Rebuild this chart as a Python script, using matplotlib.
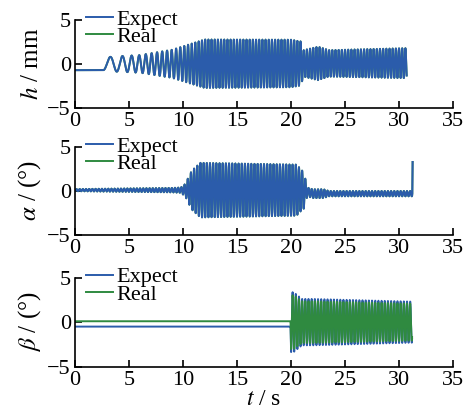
import numpy as np
import matplotlib
matplotlib.use("Agg")
from matplotlib import pyplot as plt

plt.rcParams['font.family'] = ['Liberation Serif', 'DejaVu Serif']
plt.rcParams['mathtext.fontset'] = 'stix'

"""values read off the picture: envelope / frequency / offset knots"""
# h / mm
h_t_end = 30.7
h_env_t = [0, 2.6, 3.5, 6, 9, 12, 20, 20.9, 21.15, 22.5, 23.5, 30.7]
h_env_a = [0, 0.7, 0.85, 1.0, 1.6, 2.75, 2.7, 2.5, 1.5, 1.9, 1.5, 1.7]
h_off_t = [0, 2.6, 31]
h_off_v = [-0.7, 0.0, 0.1]
h_f_t = [0, 2.6, 2.61, 4, 5.5, 7, 9, 12, 31]
h_f_hz = [0, 0, 0.7, 0.9, 1.4, 1.9, 2.4, 3.4, 3.4]

# alpha / deg
a_t_end = 31.2
a_env_t = [0, 9, 9.8, 10.2, 10.8, 11.6, 20.5, 21.2, 21.5, 23, 23.5, 31.2]
a_env_a = [0.12, 0.25, 0.3, 0.7, 2.2, 3.1, 2.9, 2.0, 0.5, 0.5, 0.3, 0.3]
a_off_t = [0, 21, 22, 31.2]
a_off_v = [0.1, 0.1, -0.3, -0.3]
a_f_t = [0, 31.2]
a_f_hz = [3.4, 3.4]
a_spike_t = [31.22, 31.25]
a_spike_v = [-0.3, 3.3]

# beta / deg
b_t_end = 31.2
b_env_t = [0, 19.95, 20.0, 20.3, 21.0, 22.0, 31.2]
b_env_a = [0, 0, 3.4, 3.3, 2.6, 2.6, 2.3]
b_off_t = [0, 19.95, 20.0, 31.2]
b_off_v_exp = [-0.5, -0.5, 0.0, 0.0]
b_off_v_real = [0.1, 0.1, 0.0, 0.0]
b_f_t = [0, 31.2]
b_f_hz = [3.4, 3.4]
b_real_scale = 0.9


def build(t_end, env_t, env_a, off_t, off_v, f_t, f_hz, scale=1.0):
    t = np.linspace(0, t_end, 6000)
    f = np.interp(t, f_t, f_hz)
    phase = 2 * np.pi * np.cumsum(f) * (t[1] - t[0])
    a = np.interp(t, env_t, env_a) * scale
    y = np.interp(t, off_t, off_v) - a * np.cos(phase)
    return t, y


blue = '#2b5cab'
green = '#2f8a40'
lw = 1.4

fig = plt.figure(figsize=(4.64, 4.13), dpi=100)
rects = [[0.1616, 0.7385, 0.815, 0.213],
         [0.1616, 0.431, 0.815, 0.213],
         [0.1616, 0.112, 0.815, 0.216]]
axs = [fig.add_axes(r) for r in rects]

# h
t, y = build(h_t_end, h_env_t, h_env_a, h_off_t, h_off_v, h_f_t, h_f_hz)
axs[0].plot(t, y, color=green, lw=lw, label='Real')
axs[0].plot(t, y, color=blue, lw=lw, label='Expect')

# alpha
t, y = build(a_t_end, a_env_t, a_env_a, a_off_t, a_off_v, a_f_t, a_f_hz)
t = np.concatenate([t, a_spike_t])
y = np.concatenate([y, a_spike_v])
axs[1].plot(t, y, color=green, lw=lw, label='Real')
axs[1].plot(t, y, color=blue, lw=lw, label='Expect')

# beta
t, y = build(b_t_end, b_env_t, b_env_a, b_off_t, b_off_v_exp, b_f_t, b_f_hz)
axs[2].plot(t, y, color=blue, lw=lw, label='Expect')
t, y = build(b_t_end, b_env_t, b_env_a, b_off_t, b_off_v_real, b_f_t, b_f_hz,
             scale=b_real_scale)
axs[2].plot(t, y, color=green, lw=lw, label='Real')

ylabels = [r'$h$ / mm', r'$\alpha$ / (°)', r'$\beta$ / (°)']
for ax, yl in zip(axs, ylabels):
    ax.set_xlim(0, 35)
    ax.set_ylim(-5, 5)
    ax.set_xticks(range(0, 36, 5))
    ax.set_yticks([-5, 0, 5])
    ax.spines['top'].set_visible(False)
    ax.spines['right'].set_visible(False)
    ax.tick_params(direction='in', labelsize=16, length=5, width=1.2, pad=3)
    for s in ('left', 'bottom'):
        ax.spines[s].set_linewidth(1.2)
    ax.set_ylabel(yl, fontsize=18, labelpad=3)
    h, l = ax.get_legend_handles_labels()
    order = [l.index('Expect'), l.index('Real')]
    ax.legend([h[i] for i in order], [l[i] for i in order], loc='upper left',
              frameon=False, fontsize=16, handlelength=1.2, handletextpad=0.15,
              labelspacing=-0.15, borderaxespad=0.0, borderpad=0.0,
              bbox_to_anchor=(0.03, 1.12))
axs[2].set_xlabel(r'$t$ / s', fontsize=17, labelpad=-1)

fig.savefig('out.png', dpi=100)
